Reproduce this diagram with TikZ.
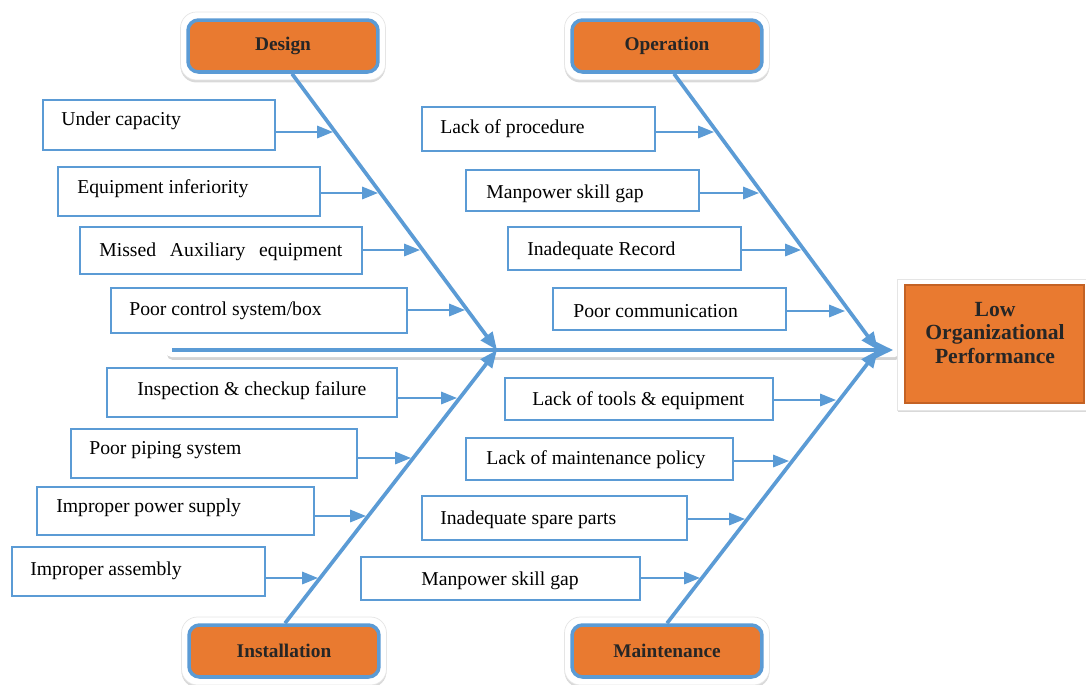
\documentclass[tikz,border=0pt]{standalone}
\usepackage{fontspec}
\setmainfont{Liberation Serif}
\usetikzlibrary{arrows.meta,calc,shadows}
\definecolor{fishblue}{RGB}{91,155,213}
\definecolor{hdr}{RGB}{233,122,48}
\definecolor{hdrline}{RGB}{196,98,36}
\tikzset{
  hframe/.style={fill=white,draw=black!10,rounded corners=9pt,
    minimum width=4.1cm,minimum height=1.36cm,
    drop shadow={shadow xshift=0pt,shadow yshift=-1.4pt,opacity=0.3}},
  hbox/.style={fill=hdr,draw=fishblue,line width=2pt,rounded corners=6pt,
    minimum width=3.8cm,minimum height=1.04cm,text=black!85,
    font=\bfseries\fontsize{11}{13}\selectfont},
  cbox/.style={draw=fishblue,line width=1.1pt},
  ctext/.style={anchor=west,inner sep=0pt,yshift=-0.05cm,
    font=\fontsize{11.2}{13}\selectfont},
  bone/.style={draw=fishblue,line width=2.1pt,-{Triangle[length=10pt,width=8pt]}},
  cause/.style={draw=fishblue,line width=1.2pt,-{Triangle[length=9pt,width=7pt]}},
}
\begin{document}
\begin{tikzpicture}[x=0.02cm,y=-0.02cm]
\useasboundingbox (0,0) rectangle (1086,684);

% spine
\fill[white,rounded corners=3pt,
  drop shadow={shadow xshift=0.6pt,shadow yshift=-1.6pt,opacity=0.35}]
  (166,344) rectangle (900,357);
\node[fill=white,draw=black!10,minimum width=3.78cm,minimum height=2.62cm,
  drop shadow={shadow xshift=0.8pt,shadow yshift=-1.4pt,opacity=0.3}]
  (effectf) at (991.5,344.5) {};
\node[fill=hdr,draw=hdrline,line width=0.8pt,minimum width=3.58cm,
  minimum height=2.36cm] (effect) at (994.5,344) {};
\node[align=center,text=black!85,font=\bfseries\fontsize{12.3}{13.6}\selectfont]
  (effectt) at (995,333) {Low\\Organizational\\Performance};
\coordinate (tail) at (172,350);
\draw[draw=fishblue,line width=2.1pt,shorten >=2pt,
  -{Triangle[length=10pt,width=9pt]}] (tail) -- (tail -| effectf.west);

% heads
\node[hframe] (designf) at (283,46) {};
\node[hbox] (design) at (283,46) {Design};
\node[hframe] (operationf) at (667,46) {};
\node[hbox] (operation) at (667,46) {Operation};
\node[hframe] (installf) at (284,651) {};
\node[hbox] (install) at (284,651) {Installation};
\node[hframe] (maintf) at (667,651) {};
\node[hbox] (maint) at (667,651) {Maintenance};

% bones
\coordinate (hubL) at (497,350);
\coordinate (hubR) at (878,350);
\draw[bone] ($(design.south)+(9,0)$) -- (hubL);
\draw[bone] ($(operation.south)+(7,0)$) -- (hubR);
\draw[bone] ($(install.north)+(1,0)$) -- (hubL);
\draw[bone] ($(maint.north)+(0,0)$) -- (hubR);

% design causes
\node[cbox,minimum width=4.64cm,minimum height=1cm] (u1) at (159,125) {};
\node[ctext] (u1t) at (61,118) {Under capacity};
\node[cbox,minimum width=5.24cm,minimum height=0.98cm] (u2) at (189,191.5) {};
\node[ctext] (u2t) at (77,186) {Equipment inferiority};
\node[cbox,minimum width=5.64cm,minimum height=0.94cm] (u3) at (221,250.5) {};
\node[ctext] (u3t) at (99,249) {\makebox[4.86cm][s]{Missed Auxiliary equipment}};
\node[cbox,minimum width=5.92cm,minimum height=0.9cm] (u4) at (259,310.5) {};
\node[ctext] (u4t) at (129,308) {Poor control system/box};

% operation causes
\node[cbox,minimum width=4.66cm,minimum height=0.88cm] (o1) at (538.5,129) {};
\node[ctext] (o1t) at (440,126) {Lack of procedure};
\node[cbox,minimum width=4.66cm,minimum height=0.82cm] (o2) at (582.5,190.5) {};
\node[ctext] (o2t) at (486,191) {Manpower skill gap};
\node[cbox,minimum width=4.66cm,minimum height=0.86cm] (o3) at (624.5,248.5) {};
\node[ctext] (o3t) at (527,248) {Inadequate Record};
\node[cbox,minimum width=4.66cm,minimum height=0.84cm] (o4) at (669.5,309) {};
\node[ctext] (o4t) at (573,309) {Poor communication};

% installation causes
\node[cbox,minimum width=5.8cm,minimum height=0.98cm] (i1) at (252,392.5) {};
\node[ctext] (i1t) at (137,388) {Inspection \& checkup failure};
\node[cbox,minimum width=5.72cm,minimum height=0.98cm] (i2) at (214,453.5) {};
\node[ctext] (i2t) at (89,448) {Poor piping system};
\node[cbox,minimum width=5.54cm,minimum height=0.96cm] (i3) at (175.5,511) {};
\node[ctext] (i3t) at (56,505) {Improper power supply};
\node[cbox,minimum width=5.06cm,minimum height=0.98cm] (i4) at (138.5,571.5) {};
\node[ctext] (i4t) at (30,568) {Improper assembly};

% maintenance causes
\node[cbox,minimum width=5.36cm,minimum height=0.84cm] (m1) at (639,399) {};
\node[ctext] (m1t) at (532,398) {Lack of tools \& equipment};
\node[cbox,minimum width=5.34cm,minimum height=0.84cm] (m2) at (599.5,459) {};
\node[ctext] (m2t) at (486,457) {Lack of maintenance policy};
\node[cbox,minimum width=5.3cm,minimum height=0.88cm] (m3) at (554.5,518) {};
\node[ctext] (m3t) at (440,517) {Inadequate spare parts};
\node[cbox,minimum width=5.58cm,minimum height=0.86cm] (m4) at (500.5,578.5) {};
\node[ctext] (m4t) at (421,578) {Manpower skill gap};

% cause arrows onto the bones
\foreach \b/\x/\y in {u1/333/132,u2/378/193,u3/420/250,u4/465/310,
    o1/714/132,o2/759/193,o3/801/250,o4/845/311,
    i1/457/398,i2/411/458,i3/366/516,i4/318/578,
    m1/836/400,m2/789/461,m3/745/519,m4/700/578}{
  \coordinate (\b-tip) at (\x,\y);
  \draw[cause] (\b.east |- \b-tip) -- (\b-tip);
}
\end{tikzpicture}
\end{document}
